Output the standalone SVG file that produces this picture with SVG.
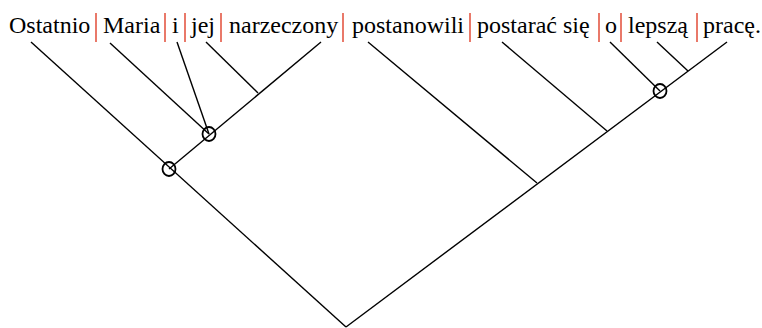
<svg xmlns="http://www.w3.org/2000/svg" width="762" height="328" viewBox="0 0 762 328">
<style>
.w{font-size:24px;fill:#000}
.sep{stroke:#e0402a;stroke-width:1.4}
.e{stroke:#000;stroke-width:1.4;fill:none}
.n{stroke:#000;stroke-width:1.8;fill:none}
</style>
<rect width="762" height="328" fill="#fff"/>
<g id="words" font-family="'Liberation Serif', Tinos, 'Times New Roman', Times, 'DejaVu Serif', serif">
<text class="w" x="9" y="33">Ostatnio</text>
<text class="w" x="103" y="33">Maria</text>
<text class="w" x="172" y="33">i</text>
<text class="w" x="191" y="33">jej</text>
<text class="w" x="229" y="33">narzeczony</text>
<text class="w" x="352" y="33">postanowili</text>
<text class="w" x="477" y="33">postarać się</text>
<text class="w" x="605" y="33">o</text>
<text class="w" x="628" y="33">lepszą</text>
<text class="w" x="703" y="33">pracę.</text>
</g>
<g id="separators">
<line class="sep" x1="96" y1="13" x2="96" y2="42"/>
<line class="sep" x1="165" y1="13" x2="165" y2="42"/>
<line class="sep" x1="185" y1="13" x2="185" y2="42"/>
<line class="sep" x1="221" y1="13" x2="221" y2="42"/>
<line class="sep" x1="343" y1="13" x2="343" y2="42"/>
<line class="sep" x1="470" y1="13" x2="470" y2="42"/>
<line class="sep" x1="599" y1="13" x2="599" y2="42"/>
<line class="sep" x1="621" y1="13" x2="621" y2="42"/>
<line class="sep" x1="697" y1="13" x2="697" y2="42"/>
</g>
<g id="connectors">
<line class="e" x1="31" y1="42" x2="346" y2="327"/>
<line class="e" x1="346" y1="327" x2="727" y2="42"/>
<line class="e" x1="169" y1="169" x2="321" y2="42"/>
<line class="e" x1="110" y1="43" x2="209" y2="134"/>
<line class="e" x1="177" y1="42" x2="209" y2="134"/>
<line class="e" x1="206" y1="42" x2="258" y2="93"/>
<line class="e" x1="368" y1="42" x2="537" y2="183"/>
<line class="e" x1="502" y1="42" x2="607" y2="131"/>
<line class="e" x1="610" y1="42" x2="660" y2="91"/>
<line class="e" x1="657" y1="42" x2="688" y2="71"/>
</g>
<g id="node-1"><ellipse class="n" cx="169" cy="169" rx="6.5" ry="7"/></g>
<g id="node-2"><ellipse class="n" cx="209" cy="134" rx="6.5" ry="7"/></g>
<g id="node-3"><ellipse class="n" cx="660" cy="91" rx="6.5" ry="7"/></g>
</svg>
